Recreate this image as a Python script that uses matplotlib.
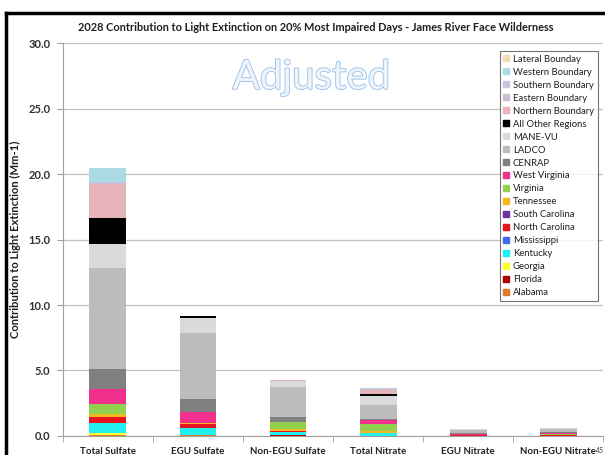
import matplotlib
matplotlib.use("Agg")
import matplotlib.pyplot as plt
import matplotlib.patheffects as pe
from matplotlib.lines import Line2D
import numpy as np

plt.rcParams["font.family"] = ["Lato", "DejaVu Sans"]

categories = ["Total Sulfate", "EGU Sulfate", "Non-EGU Sulfate",
              "Total Nitrate", "EGU Nitrate", "Non-EGU Nitrate"]

# contributions (Mm-1), stacked bottom -> top
alabama = [0.08, 0.05, 0.02, 0.01, 0.00, 0.00]
florida = [0.02, 0.02, 0.01, 0.00, 0.00, 0.00]
georgia = [0.14, 0.01, 0.01, 0.01, 0.00, 0.00]
kentucky = [0.72, 0.51, 0.24, 0.18, 0.02, 0.02]
mississippi = [0.01, 0.00, 0.00, 0.00, 0.00, 0.00]
north_carolina = [0.50, 0.30, 0.12, 0.05, 0.02, 0.01]
south_carolina = [0.01, 0.00, 0.01, 0.00, 0.00, 0.00]
tennessee = [0.20, 0.10, 0.10, 0.10, 0.00, 0.03]
virginia = [0.76, 0.03, 0.52, 0.54, 0.03, 0.12]
west_virginia = [1.12, 0.84, 0.06, 0.30, 0.08, 0.03]
cenrap = [1.53, 0.96, 0.39, 0.10, 0.05, 0.05]
ladco = [7.71, 5.02, 2.29, 1.05, 0.25, 0.25]
mane_vu = [1.83, 1.19, 0.40, 0.68, 0.05, 0.10]
all_other = [1.99, 0.13, 0.06, 0.21, 0.02, 0.03]
northern = [2.62, 0.00, 0.02, 0.25, 0.00, 0.00]
eastern = [0.08, 0.00, 0.00, 0.05, 0.00, 0.00]
southern = [0.09, 0.00, 0.00, 0.16, 0.00, 0.00]
western = [1.02, 0.00, 0.00, 0.00, 0.00, 0.00]
lateral = [0.00, 0.00, 0.00, 0.00, 0.00, 0.00]

series = [
    ("Alabama", alabama, "#e07b28"),
    ("Florida", florida, "#b00000"),
    ("Georgia", georgia, "#ffff33"),
    ("Kentucky", kentucky, "#22f0f0"),
    ("Mississippi", mississippi, "#3c6ee6"),
    ("North Carolina", north_carolina, "#e8141e"),
    ("South Carolina", south_carolina, "#7030a0"),
    ("Tennessee", tennessee, "#f5b820"),
    ("Virginia", virginia, "#92d050"),
    ("West Virginia", west_virginia, "#f0308c"),
    ("CENRAP", cenrap, "#808080"),
    ("LADCO", ladco, "#bcbcbc"),
    ("MANE-VU", mane_vu, "#dadada"),
    ("All Other Regions", all_other, "#000000"),
    ("Northern Boundary", northern, "#e6b4b8"),
    ("Eastern Boundary", eastern, "#ccbcd4"),
    ("Southern Boundary", southern, "#c8c4dc"),
    ("Western Boundary", western, "#abd9e4"),
    ("Lateral Bounday", lateral, "#f6d8b4"),
]

fig = plt.figure(figsize=(6.05, 4.55), dpi=100)
fig.patch.set_facecolor("white")
ax = fig.add_axes([0.104, 0.042, 0.893, 0.863])

x = np.arange(len(categories))
bottom = np.zeros(len(categories))
handles = []
for name, vals, col in series:
    ax.bar(x, vals, bottom=bottom, width=0.41, color=col, linewidth=0, zorder=3)
    bottom += np.array(vals)
    handles.append(Line2D([], [], marker="s", linestyle="", markersize=5,
                          markerfacecolor=col, markeredgecolor=col, label=name))

ax.set_xlim(-0.5, 5.5)
ax.set_ylim(0, 30)
ax.set_yticks(np.arange(0, 31, 5))
ax.set_yticklabels([f"{v:.1f}" for v in np.arange(0, 31, 5)])
ax.set_xticks(x)
ax.set_xticklabels(categories)
ax.set_xticks(np.arange(-0.5, 5.6, 1), minor=True)
ax.tick_params(axis="x", which="major", length=0, pad=8, labelsize=7.0,
               labelcolor="#202020")
ax.tick_params(axis="x", which="minor", length=4, color="#a0a0a0")
ax.tick_params(axis="y", length=4, color="#a0a0a0", labelsize=8,
               labelcolor="#303030", pad=5)
for lbl in ax.get_xticklabels() + ax.get_yticklabels():
    lbl.set_fontweight("bold")

ax.grid(axis="y", color="#c0c0c0", linewidth=0.9, zorder=0)
for s in ["top", "right"]:
    ax.spines[s].set_visible(False)
ax.spines["left"].set_color("#a0a0a0")
ax.spines["bottom"].set_color("#a0a0a0")

ax.set_ylabel("Contribution to Light Extinction (Mm-1)", fontsize=8.1,
              fontweight="bold", color="#202020", labelpad=5)

fig.text(0.522, 0.94, "2028 Contribution to Light Extinction on 20% Most Impaired Days"
         " - James River Face Wilderness", ha="center", va="center",
         fontsize=7.9, fontweight="bold", color="#202020")

t = ax.text(0.46, 0.913, "Adjusted", transform=ax.transAxes, ha="center",
            va="center", fontsize=29, color="#eef4fb", zorder=4)
t.set_path_effects([pe.Stroke(linewidth=1.3, foreground="#9fc2e8"), pe.Normal()])

leg = ax.legend(handles=handles[::-1], loc="upper right",
                bbox_to_anchor=(0.993, 0.985), fontsize=6.8, frameon=True,
                fancybox=False, edgecolor="#505050", handlelength=0.6,
                handletextpad=0.4, labelspacing=0.42, borderpad=0.4,
                borderaxespad=0.2)
leg.get_frame().set_linewidth(0.8)
for txt in leg.get_texts():
    txt.set_color("#202020")

# chart frame
fig.add_artist(Line2D([6 / 605, 1.0], [1 - 13 / 455, 1 - 13 / 455],
                      transform=fig.transFigure, color="black", linewidth=2.5))
fig.add_artist(Line2D([6 / 605, 6 / 605], [0, 1 - 13 / 455],
                      transform=fig.transFigure, color="black", linewidth=2.5))

fig.text(0.998, 0.003, "45", fontsize=5, color="#404040", ha="right", va="bottom")

fig.savefig("out.png", dpi=100, facecolor="white")
